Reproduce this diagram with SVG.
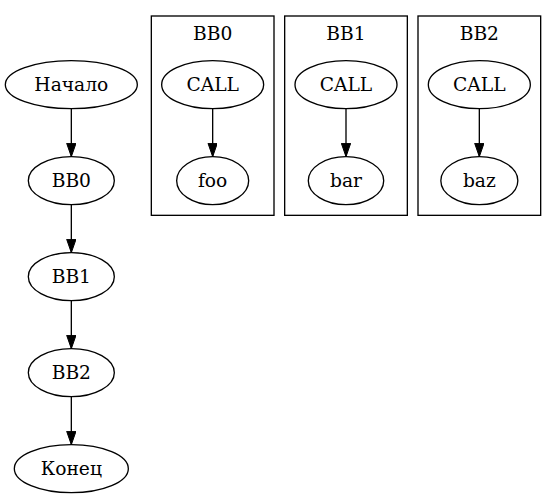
<svg xmlns="http://www.w3.org/2000/svg" width="557" height="498" viewBox="0 0 557 498">
<style>
.n ellipse{fill:none;stroke:#000;stroke-width:1.33}
.c rect{fill:none;stroke:#000;stroke-width:1.33}
text{font-family:"DejaVu Serif","Liberation Serif",serif;font-size:18.67px;text-anchor:middle;fill:#000}
.e line{stroke:#000;stroke-width:1.33}
</style>
<defs>
<marker id="ah" markerUnits="userSpaceOnUse" markerWidth="14" markerHeight="10" refX="13.33" refY="4.67" orient="auto" viewBox="0 0 14 10">
<path d="M0,0 L13.33,4.67 L0,9.33 Z" fill="#000" stroke="#000" stroke-width="1"/>
</marker>
</defs>
<rect width="557" height="498" fill="#fff"/>
<g id="cluster_BB0" class="c"><rect x="151.33" y="16" width="122.67" height="199.33"/><text x="212.67" y="39.5">BB0</text></g>
<g id="cluster_BB1" class="c"><rect x="284.67" y="16" width="122.67" height="199.33"/><text x="346" y="39.5">BB1</text></g>
<g id="cluster_BB2" class="c"><rect x="418" y="16" width="122.67" height="199.33"/><text x="479.33" y="39.5">BB2</text></g>
<g id="edges" class="e">
<line x1="71.33" y1="108.67" x2="71.33" y2="156.67" marker-end="url(#ah)"/>
<line x1="71.33" y1="204.67" x2="71.33" y2="252.67" marker-end="url(#ah)"/>
<line x1="71.33" y1="300.67" x2="71.33" y2="348.67" marker-end="url(#ah)"/>
<line x1="71.33" y1="396.67" x2="71.33" y2="444.67" marker-end="url(#ah)"/>
<line x1="212.67" y1="108.67" x2="212.67" y2="156.67" marker-end="url(#ah)"/>
<line x1="346" y1="108.67" x2="346" y2="156.67" marker-end="url(#ah)"/>
<line x1="479.33" y1="108.67" x2="479.33" y2="156.67" marker-end="url(#ah)"/>
</g>
<g id="start" class="n"><ellipse cx="71.33" cy="84.67" rx="66" ry="24"/><text x="71.33" y="90.67">Начало</text></g>
<g id="bb0" class="n"><ellipse cx="71.33" cy="180.67" rx="43" ry="24"/><text x="71.33" y="186.67">BB0</text></g>
<g id="bb1" class="n"><ellipse cx="71.33" cy="276.67" rx="43" ry="24"/><text x="71.33" y="282.67">BB1</text></g>
<g id="bb2" class="n"><ellipse cx="71.33" cy="372.67" rx="43" ry="24"/><text x="71.33" y="378.67">BB2</text></g>
<g id="end" class="n"><ellipse cx="71.33" cy="468.67" rx="57" ry="24"/><text x="71.33" y="474.67">Конец</text></g>
<g id="call0" class="n"><ellipse cx="212.67" cy="84.67" rx="51" ry="24"/><text x="212.67" y="90.67">CALL</text></g>
<g id="foo" class="n"><ellipse cx="212.67" cy="180.67" rx="36" ry="24"/><text x="212.67" y="186.67">foo</text></g>
<g id="call1" class="n"><ellipse cx="346" cy="84.67" rx="51" ry="24"/><text x="346" y="90.67">CALL</text></g>
<g id="bar" class="n"><ellipse cx="346" cy="180.67" rx="37.7" ry="24"/><text x="346" y="186.67">bar</text></g>
<g id="call2" class="n"><ellipse cx="479.33" cy="84.67" rx="51" ry="24"/><text x="479.33" y="90.67">CALL</text></g>
<g id="baz" class="n"><ellipse cx="479.33" cy="180.67" rx="38.5" ry="24"/><text x="479.33" y="186.67">baz</text></g>
</svg>
